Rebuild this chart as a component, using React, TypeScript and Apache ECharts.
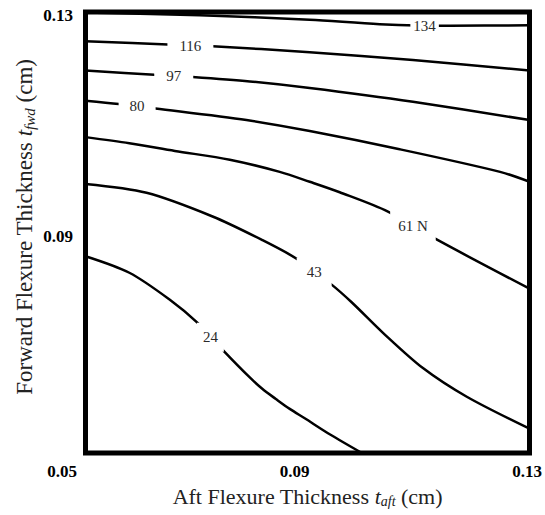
import React, { useEffect, useRef } from "react";
import * as echarts from "echarts";

// Tick labels
const xTickLabels = ["0.05", "0.09", "0.13"];
const yTickLabels = ["0.05", "0.09", "0.13"];

// Contour levels (N)
const contourLevels = ["24", "43", "61 N", "80", "97", "116", "134"];

// Contour lines: [t_aft (cm), t_fwd (cm)]
const contour24 = [
  [0.05, 0.0857], [0.0579, 0.0827], [0.0652, 0.0778], [0.0702, 0.0736],
  [0.0751, 0.0683], [0.0796, 0.0637], [0.0819, 0.0616], [0.0843, 0.0598],
  [0.0868, 0.058], [0.0895, 0.0563], [0.094, 0.0534], [0.0998, 0.05],
];
const contour43 = [
  [0.05, 0.0988], [0.061, 0.0972], [0.0729, 0.0929], [0.0819, 0.0886],
  [0.0881, 0.0852], [0.0944, 0.0805], [0.098, 0.0773], [0.1036, 0.0718],
  [0.1108, 0.0654], [0.1187, 0.0602], [0.13, 0.0544],
];
const contour61 = [
  [0.05, 0.1073], [0.0579, 0.1062], [0.0661, 0.1048], [0.076, 0.1032],
  [0.085, 0.101], [0.0904, 0.0992], [0.0958, 0.0973], [0.1045, 0.0938],
  [0.1135, 0.0886], [0.13, 0.0798],
];
const contour80 = [
  [0.05, 0.1139], [0.056, 0.1133], [0.0626, 0.1125], [0.079, 0.1104],
  [0.0904, 0.1084], [0.1066, 0.1051], [0.1247, 0.101], [0.13, 0.0992],
];
const contour97 = [
  [0.05, 0.1194], [0.0624, 0.1186], [0.0693, 0.1182], [0.0796, 0.1174],
  [0.0904, 0.1162], [0.109, 0.1137], [0.13, 0.1104],
];
const contour116 = [
  [0.05, 0.1247], [0.0648, 0.1241], [0.0729, 0.1238], [0.0904, 0.1227],
  [0.109, 0.1213], [0.13, 0.1194],
];
const contour134 = [
  [0.05, 0.1299], [0.0706, 0.1294], [0.0904, 0.1286], [0.103, 0.1278],
  [0.1157, 0.1275], [0.13, 0.1276],
];

// Where each contour's level label sits
const labelPositions = [
  [0.0725, 0.071], [0.0912, 0.0828], [0.109, 0.0912], [0.0593, 0.1129],
  [0.0659, 0.1184], [0.0689, 0.1239], [0.1111, 0.1275],
];

const contours = [contour24, contour43, contour61, contour80, contour97, contour116, contour134];

// label padding (style) per contour label: [vertical, horizontal]
const labelPadding = [
  [7, 6], [7, 10], [8, 8], [3, 11], [3, 12], [3, 12], [1, 3],
];

const FONT = "'Liberation Serif', 'Times New Roman', serif";

function titleStyle(size: number, sub: number, drop: number, pad: number[]) {
  return {
    fontFamily: FONT,
    fontSize: size,
    color: "#222",
    padding: pad,
    rich: {
      i: { fontFamily: FONT, fontSize: size, fontStyle: "italic", color: "#222" },
      s: {
        fontFamily: FONT,
        fontSize: sub,
        fontStyle: "italic",
        color: "#222",
        lineHeight: sub,
        padding: [drop, 0, 0, 0],
      },
    },
  };
}

export default function App() {
  const ref = useRef<HTMLDivElement>(null);

  useEffect(() => {
    if (!ref.current) return;
    const chart = echarts.init(ref.current, null, { renderer: "svg" });

    const lineSeries = contours.map((c, i) => ({
      type: "line",
      name: contourLevels[i],
      xAxisIndex: 0,
      yAxisIndex: 0,
      data: c,
      smooth: 0.3,
      symbol: "none",
      clip: true,
      lineStyle: { color: "#000", width: 2.5 },
      silent: true,
      z: 2,
    }));

    const labelSeries = {
      type: "scatter",
      xAxisIndex: 0,
      yAxisIndex: 0,
      symbolSize: 1,
      itemStyle: { color: "rgba(0,0,0,0)", opacity: 1 },
      z: 5,
      silent: true,
      label: { show: true, position: "inside" },
      data: labelPositions.map((p, i) => ({
        value: p,
        label: {
          show: true,
          position: "inside",
          formatter: "{a|" + contourLevels[i] + "}",
          rich: {
            a: {
              padding: labelPadding[i],
              backgroundColor: "#ffffff",
              color: "#2a2a2a",
              fontSize: 15,
              fontFamily: FONT,
            },
          },
        },
      })),
    };

    const hiddenParts = {
      axisLine: { show: false },
      axisTick: { show: false },
      axisLabel: { show: false },
      splitLine: { show: false },
    };

    const tickLabelStyle = {
      fontWeight: "bold",
      fontSize: 17,
      fontFamily: FONT,
      color: "#000",
    };

    chart.setOption({
      animation: false,
      backgroundColor: "#fff",
      grid: [
        {
          left: 85.5,
          right: 15.5,
          top: 12,
          bottom: 62,
          show: true,
          borderWidth: 5,
          borderColor: "#000",
          backgroundColor: "rgba(0,0,0,0)",
        },
        { left: 62, right: 15, top: 15, bottom: 44 },
        { left: 76, right: 15, top: 15, bottom: 58 },
      ],
      xAxis: [
        {
          gridIndex: 0,
          type: "value",
          min: 0.05,
          max: 0.13,
          ...hiddenParts,
          name: "Aft Flexure Thickness {i|t}{s|aft} (cm)",
          nameLocation: "middle",
          nameGap: 32,
          nameTextStyle: titleStyle(22, 14, 11, [0, 0, 0, 0]),
        },
        {
          gridIndex: 1,
          type: "category",
          data: xTickLabels,
          boundaryGap: false,
          axisLine: { show: false },
          axisTick: { show: false },
          splitLine: { show: false },
          axisLabel: { ...tickLabelStyle, interval: 0, margin: 0, verticalAlign: "middle" },
        },
        { gridIndex: 2, type: "value", show: false, min: 0, max: 1 },
      ],
      yAxis: [
        {
          gridIndex: 0,
          type: "value",
          min: 0.05,
          max: 0.13,
          ...hiddenParts,
          name: "Forward Flexure Thickness {i|t}{s|fwd} (cm)",
          nameLocation: "middle",
          nameGap: 50,
          nameTextStyle: titleStyle(23, 15, 11, [0, 0, 0, 11]),
        },
        { gridIndex: 1, type: "value", show: false, min: 0, max: 1 },
        {
          gridIndex: 2,
          type: "category",
          data: yTickLabels,
          boundaryGap: false,
          axisLine: { show: false },
          axisTick: { show: false },
          splitLine: { show: false },
          axisLabel: {
            ...tickLabelStyle,
            interval: 0,
            margin: 3,
            formatter: (v: string, idx: number) => (idx === 0 ? "" : v),
          },
        },
      ],
      series: [...lineSeries, labelSeries],
    });

    return () => chart.dispose();
  }, []);

  return (
    <div
      ref={ref}
      style={{ position: "fixed", left: 0, top: 0, width: 545, height: 515 }}
    />
  );
}
